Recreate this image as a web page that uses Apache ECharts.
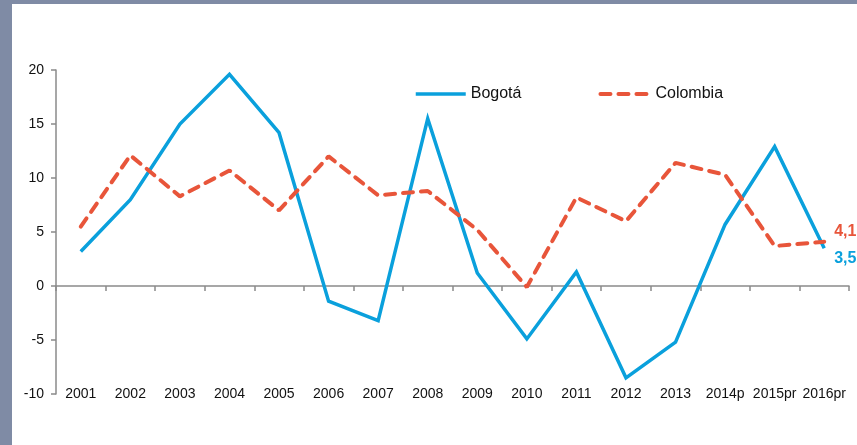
<!DOCTYPE html>
<html>
<head>
<meta charset="utf-8">
<script src="https://cdn.jsdelivr.net/npm/echarts@6/dist/echarts.min.js"></script>
<style>
html,body{margin:0;padding:0;background:#fff;}
#chart{width:857px;height:445px;}
</style>
</head>
<body>
<div id="chart"></div>
<script>
const categories = ['2001','2002','2003','2004','2005','2006','2007','2008','2009','2010','2011','2012','2013','2014p','2015pr','2016pr'];
const bogota = [3.2, 8.0, 15.0, 19.6, 14.2, -1.4, -3.2, 15.5, 1.2, -4.9, 1.3, -8.5, -5.2, 5.7, 12.9, 3.5];
const colombia = [5.5, 12.1, 8.3, 10.7, 7.0, 12.0, 8.4, 8.8, 5.2, -0.1, 8.2, 6.0, 11.4, 10.3, 3.7, 4.1];
const seriesNames = ['Bogotá', 'Colombia'];

const chart = echarts.init(document.getElementById('chart'), null, {renderer: 'canvas'});
const fontFam = '"Liberation Sans", Arial, sans-serif';
const axisGray = '#8a8a8a';
const blue = '#0aa0dc';
const red = '#e8553a';
const endLabel = (color, dy) => ({
  show: true,
  distance: 10,
  offset: [0, dy],
  color: color,
  fontWeight: 'bold',
  fontSize: 16,
  fontFamily: fontFam,
  formatter: p => String(p.value).replace('.', ',')
});
chart.setOption({
  animation: false,
  backgroundColor: '#fff',
  graphic: [
    {type: 'rect', shape: {x: 0, y: 0, width: 857, height: 4}, style: {fill: '#7f8ba5'}, silent: true},
    {type: 'rect', shape: {x: 0, y: 0, width: 12, height: 445}, style: {fill: '#7f8ba5'}, silent: true}
  ],
  legend: {
    left: 414,
    top: 86,
    padding: 0,
    itemWidth: 50,
    itemHeight: 1,
    itemGap: 77,
    textStyle: {fontSize: 16, fontFamily: fontFam, color: '#111', padding: [0, 0, 0, 0]},
    data: [
      {name: seriesNames[0], lineStyle: {width: 3.5, color: blue}},
      {name: seriesNames[1], lineStyle: {width: 4, color: red, type: [10, 8], cap: 'round'}}
    ]
  },
  grid: {left: 56, right: 8, top: 70, bottom: 51, containLabel: false},
  xAxis: [
    {
      type: 'category',
      data: categories,
      boundaryGap: true,
      position: 'bottom',
      axisLine: {show: false, onZero: false},
      axisTick: {show: false},
      axisLabel: {margin: -7, fontSize: 14, fontFamily: fontFam, color: '#111', interval: 0}
    },
    {
      type: 'category',
      data: categories,
      boundaryGap: true,
      position: 'bottom',
      axisLine: {show: true, onZero: true, lineStyle: {color: axisGray, width: 1.5}},
      axisTick: {show: true, length: 5, lineStyle: {color: axisGray, width: 1.5}},
      axisLabel: {show: false}
    }
  ],
  yAxis: {
    type: 'value',
    min: -10,
    max: 20,
    interval: 5,
    axisLine: {show: true, lineStyle: {color: axisGray, width: 1.5}},
    axisTick: {show: true, length: 5, lineStyle: {color: axisGray, width: 1.5}},
    splitLine: {show: false},
    axisLabel: {margin: 12, fontSize: 14, fontFamily: fontFam, color: '#111'}
  },
  series: [
    {
      name: seriesNames[0],
      type: 'line',
      data: bogota,
      symbol: 'none',
      color: blue,
      lineStyle: {color: blue, width: 3.5, join: 'miter'},
      endLabel: endLabel(blue, 10),
      z: 3
    },
    {
      name: seriesNames[1],
      type: 'line',
      data: colombia,
      symbol: 'none',
      color: red,
      lineStyle: {color: red, width: 4, type: [10, 8], cap: 'round'},
      endLabel: endLabel(red, -10),
      z: 4
    }
  ]
});
</script>
</body>
</html>
